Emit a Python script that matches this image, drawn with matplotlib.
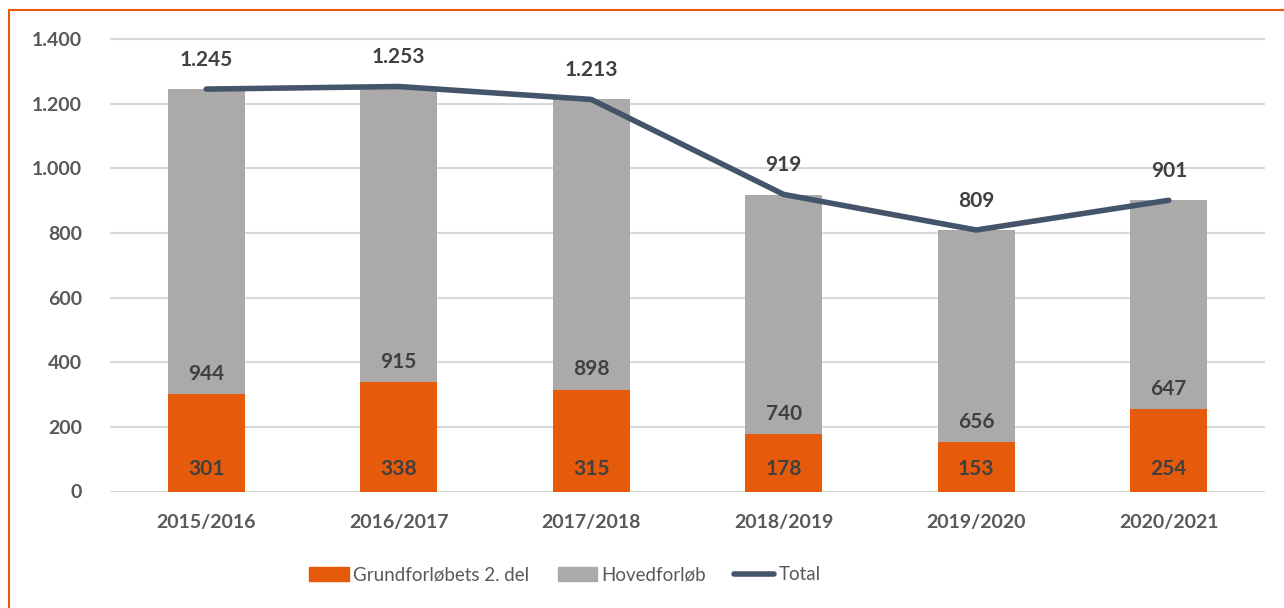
import numpy as np
import matplotlib.pyplot as plt
from matplotlib.patches import Rectangle
from matplotlib.lines import Line2D

years = ['2015/2016', '2016/2017', '2017/2018', '2018/2019', '2019/2020', '2020/2021']
grund = [301, 338, 315, 178, 153, 254]
hoved = [944, 915, 898, 740, 656, 647]
total = [1245, 1253, 1213, 919, 809, 901]

orange = '#E55B0B'
grey = '#ABAAA9'
navy = '#44546A'
txt = '#595959'

plt.rcParams['font.family'] = ['Lato', 'DejaVu Sans']
plt.rcParams['font.weight'] = 'bold'

fig = plt.figure(figsize=(12.84, 6.08), dpi=100)
ax = fig.add_axes([110/1284, 1 - 491.5/608, 1155/1284, 452.5/608 * 1500/1400])

x = np.arange(len(years))
ax.bar(x, grund, width=0.4, color=orange, zorder=2)
ax.bar(x, hoved, width=0.4, bottom=grund, color=grey, zorder=2)
ax.plot(x, total, color=navy, lw=4, solid_capstyle='round', zorder=3)

for i in range(len(years)):
    ax.text(x[i], 38, str(grund[i]), ha='center', va='bottom', fontsize=15, color='#404040', fontweight='bold')
    ax.text(x[i], grund[i] + 32, str(hoved[i]), ha='center', va='bottom', fontsize=15, color='#404040', fontweight='bold')
    ax.text(x[i], total[i] + 60, f'{total[i]:,}'.replace(',', '.'), ha='center', va='bottom', fontsize=15, color='#404040', fontweight='bold')

ax.set_xlim(-0.5, 5.5)
ax.set_ylim(0, 1500)
ax.set_yticks(range(0, 1401, 200))
ax.set_yticklabels([f'{v:,}'.replace(',', '.') for v in range(0, 1401, 200)])
ax.set_xticks(x)
ax.set_xticklabels(years)
ax.tick_params(length=0, labelsize=14, colors=txt)
ax.tick_params(axis='x', pad=16)
ax.tick_params(axis='y', pad=20)
for lab in ax.get_xticklabels() + ax.get_yticklabels():
    lab.set_fontweight('bold')
ax.yaxis.grid(True, color='#D9D9D9', lw=1.5, zorder=0)
for s in ax.spines.values():
    s.set_visible(False)

handles = [Rectangle((0, 0), 1, 1, color=orange), Rectangle((0, 0), 1, 1, color=grey),
           Line2D([], [], color=navy, lw=4, solid_capstyle='round')]
fig.legend(handles, ['Grundforløbets 2. del', 'Hovedforløb', 'Total'], loc='center',
           bbox_to_anchor=(565/1284, 1 - 575/608), ncol=3, frameon=False,
           prop={'family': ['Lato', 'DejaVu Sans'], 'size': 13.5, 'weight': 'normal'},
           labelcolor=txt, handlelength=2.1, handleheight=0.75, handletextpad=0.25, columnspacing=1.5)

fig.patches.append(Rectangle((9/1284, -0.1), 1.2, 1 - 10/608 + 0.1, transform=fig.transFigure,
                             fill=False, edgecolor=orange, lw=1.5))

fig.savefig('out.png', dpi=100)
